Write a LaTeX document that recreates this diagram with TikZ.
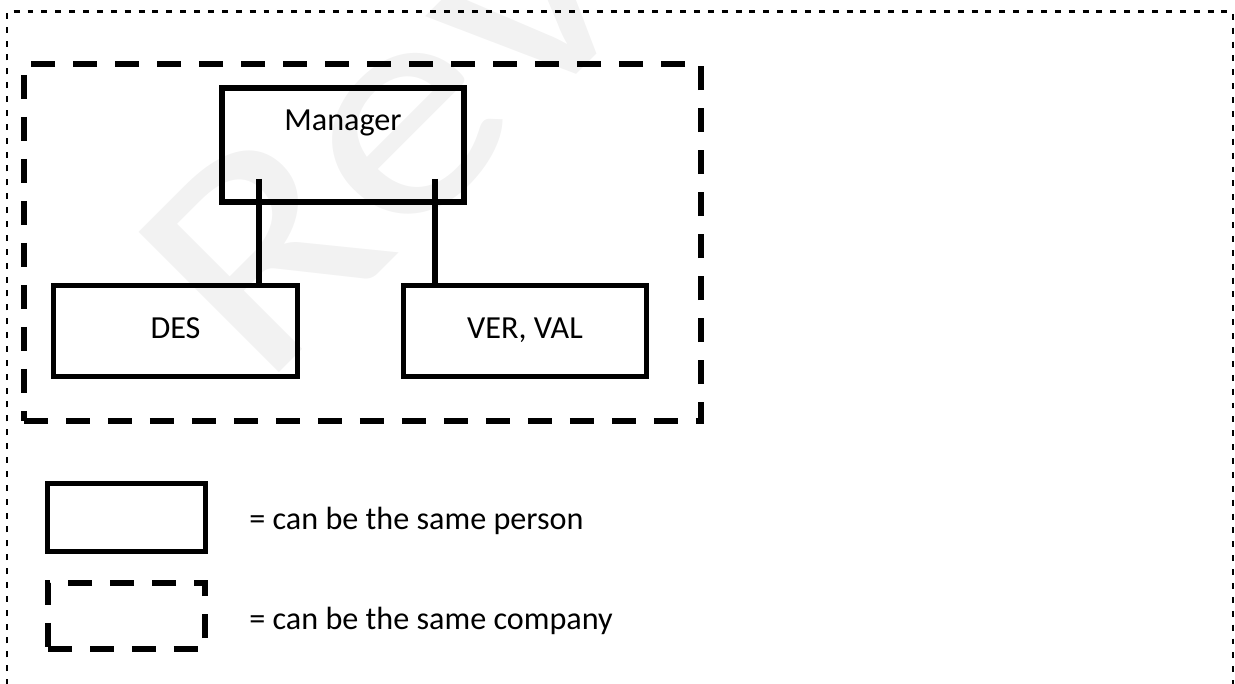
\documentclass[tikz,border=0pt]{standalone}
\usepackage{fontspec}
\setmainfont{Carlito}
\definecolor{wmark}{RGB}{242,242,242}

\begin{document}
\begin{tikzpicture}
[%%%%%%%%%%%%%%%%%%%%%%%%%%%%%%
person/.style={rectangle,draw=black,line width=3.2pt,inner sep=0pt},
company/.style={rectangle,draw=black,line width=3.6pt,dash pattern=on 13.7pt off 10.2pt,inner sep=0pt},
frame/.style={draw=black,line width=1.2pt,dash pattern=on 3.4pt off 4.5pt},
link/.style={draw=black,line width=3pt},
txt/.style={font=\fontsize{18.3}{22}\selectfont,text height=0.41cm,text depth=0.1cm,inner sep=0pt},
wm/.style={font=\fontsize{176}{176}\selectfont,text=wmark,rotate=45,xscale=1.2,anchor=base west,inner sep=0pt},
]%%%%%%%%%%%%%%%%%%%%%%%%%%%%%%

\useasboundingbox (0,0) rectangle (24.7,13.68);

\begin{scope}
\clip (0,0) rectangle (24.7,13.68);
\node[wm] (stamp) at (5.2,5.85) {Review};
\end{scope}

\draw[frame] (0.14,-0.3) -- (0.14,13.45) -- (24.66,13.45) -- (24.66,-0.3);

\node[company,minimum width=13.54cm,minimum height=7.14cm] (firm) at (7.25,8.83) {};

\node[person,minimum width=4.84cm,minimum height=2.28cm] (mgr) at (6.86,10.78) {};
\node[txt,anchor=base] (mgrtxt) at (6.86,11.06) {Manager};

\node[person,txt,minimum width=4.88cm,minimum height=1.82cm] (des) at (3.51,7.06) {DES};
\node[person,txt,minimum width=4.86cm,minimum height=1.82cm] (ver) at (10.5,7.06) {VER, VAL};

\coordinate (c1) at (5.18,10.1);
\coordinate (c2) at (8.7,10.1);
\draw[link] (c1) -- (c1 |- des.north);
\draw[link] (c2) -- (c2 |- ver.north);

\node[person,minimum width=3.16cm,minimum height=1.36cm] (keyp) at (2.53,3.33) {};
\node[txt,anchor=base west] (keyptxt) at (4.98,3.08) {= can be the same person};

\node[company,minimum width=3.14cm,minimum height=1.32cm] (keyc) at (2.53,1.36) {};
\node[txt,anchor=base west] (keyctxt) at (4.98,1.08) {= can be the same company};
\end{tikzpicture}
\end{document}
